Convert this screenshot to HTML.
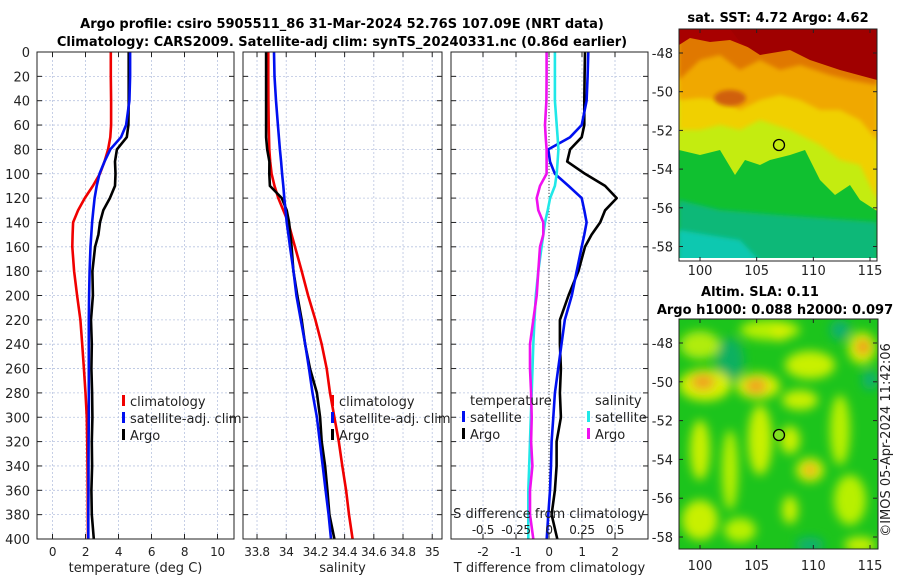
<!DOCTYPE html>
<html><head><meta charset="utf-8">
<style>
html,body{margin:0;padding:0;background:#fff;}
svg{display:block;font-family:"DejaVu Sans","Liberation Sans",sans-serif;}
</style></head>
<body>
<svg id="fig" width="900" height="580" viewBox="0 0 900 580" xmlns="http://www.w3.org/2000/svg">
<defs>
<filter id="blur2" x="-20%" y="-20%" width="140%" height="140%"><feGaussianBlur stdDeviation="2"/></filter>
<filter id="blur5" x="-50%" y="-50%" width="200%" height="200%"><feGaussianBlur stdDeviation="5"/></filter>
<clipPath id="clipM1"><rect x="679" y="29" width="198" height="232"/></clipPath>
<clipPath id="clipM2"><rect x="679" y="319" width="199" height="230"/></clipPath>
</defs>
<text x="342" y="28" text-anchor="middle" font-size="13" font-weight="bold">Argo profile: csiro 5905511_86 31-Mar-2024 52.76S 107.09E (NRT data)</text>
<text x="342" y="46" text-anchor="middle" font-size="13" font-weight="bold">Climatology: CARS2009. Satellite-adj clim: synTS_20240331.nc (0.86d earlier)</text>

<!-- SST map -->
<g clip-path="url(#clipM1)">
<rect x="679" y="29" width="198" height="232" fill="#10c030"/>
<path d="M679,200 L720,210 L780,215 L877,222 L877,261 L679,261Z" fill="#0cb878" filter="url(#blur2)"/>
<path d="M679,230 L740,240 L760,261 L679,261Z" fill="#10c8b0" filter="url(#blur2)"/>
<path d="M679,29 L877,29 L877,211 L860,200 L850,185 L835,195 L820,180 L805,150 L790,155 L770,160 L760,165 L745,160 L735,175 L720,150 L700,155 L679,150Z" fill="#c4ec10"/>
<path d="M679,29 L877,29 L877,200 L860,165 L840,160 L820,145 L790,130 L760,120 L740,130 L720,125 L700,130 L679,130Z" fill="#f0d000" filter="url(#blur2)"/>
<path d="M679,29 L877,29 L877,140 L860,120 L840,110 L820,110 L800,100 L780,95 L760,100 L740,110 L720,100 L700,98 L679,100Z" fill="#f0a800" filter="url(#blur2)"/>
<path d="M679,29 L877,29 L877,85 L850,80 L830,75 L800,65 L780,70 L760,60 L740,70 L720,55 L700,60 L679,80Z" fill="#e07800" filter="url(#blur2)"/>
<ellipse cx="730" cy="98" rx="16" ry="8" fill="#d06010" filter="url(#blur2)"/>
<path d="M679,29 L877,29 L877,78 L855,70 L830,62 L810,55 L790,50 L770,45 L750,48 L730,40 L710,42 L690,38 L679,45Z" fill="#a80000"/>
<path d="M730,29 L877,29 L877,80 L840,70 L810,60 L790,50 L760,55 L740,42Z" fill="#a00000"/>
<rect x="679" y="258" width="198" height="3" fill="#fff"/>
</g>
<rect x="679" y="29" width="198" height="232" fill="none" stroke="#222" stroke-width="1"/>
<circle cx="779" cy="145" r="5.5" fill="none" stroke="#000" stroke-width="1.3"/>
<text x="778" y="22" text-anchor="middle" font-size="13" font-weight="bold">sat. SST: 4.72 Argo: 4.62</text>

<!-- SLA map -->
<g clip-path="url(#clipM2)">
<rect x="679" y="319" width="199" height="230" fill="#1cc41c"/>
<g filter="url(#blur5)">
<ellipse cx="730" cy="360" rx="14" ry="22" fill="#10b060"/>
<ellipse cx="705" cy="385" rx="26" ry="16" fill="#d8f000"/>
<ellipse cx="758" cy="386" rx="22" ry="13" fill="#d8f000"/>
<ellipse cx="703" cy="382" rx="12" ry="8" fill="#f0a020"/>
<ellipse cx="756" cy="386" rx="11" ry="8" fill="#f0a020"/>
<ellipse cx="862" cy="348" rx="14" ry="16" fill="#d8f000"/>
<ellipse cx="863" cy="347" rx="7" ry="8" fill="#f09020"/>
<ellipse cx="810" cy="470" rx="14" ry="12" fill="#d8f000"/>
<ellipse cx="810" cy="470" rx="6" ry="6" fill="#f0a020"/>
<ellipse cx="760" cy="440" rx="12" ry="35" fill="#c8f000"/>
<ellipse cx="790" cy="440" rx="10" ry="14" fill="#c8f000"/>
<ellipse cx="810" cy="365" rx="25" ry="14" fill="#c8f000"/>
<ellipse cx="800" cy="400" rx="18" ry="10" fill="#c8f000"/>
<ellipse cx="700" cy="450" rx="10" ry="30" fill="#c8f000"/>
<ellipse cx="730" cy="470" rx="8" ry="40" fill="#b8f000"/>
<ellipse cx="700" cy="520" rx="18" ry="20" fill="#c8f000"/>
<ellipse cx="740" cy="530" rx="16" ry="12" fill="#b8f000"/>
<ellipse cx="840" cy="430" rx="10" ry="35" fill="#b8f000"/>
<ellipse cx="850" cy="500" rx="16" ry="25" fill="#b8f000"/>
<ellipse cx="790" cy="510" rx="8" ry="14" fill="#c8f000"/>
<ellipse cx="770" cy="330" rx="30" ry="10" fill="#b8f000"/>
<ellipse cx="780" cy="333" rx="8" ry="8" fill="#d8f000"/>
<ellipse cx="840" cy="330" rx="10" ry="10" fill="#10b070"/>
<ellipse cx="870" cy="380" rx="8" ry="10" fill="#10b070"/>
<ellipse cx="810" cy="545" rx="14" ry="8" fill="#10b070"/>
<ellipse cx="700" cy="345" rx="20" ry="14" fill="#b0ec10"/>
<ellipse cx="860" cy="545" rx="16" ry="8" fill="#c8f000"/>
</g>
</g>
<rect x="679" y="319" width="199" height="230" fill="none" stroke="#222" stroke-width="1"/>
<circle cx="779" cy="435" r="5.5" fill="#80e020" stroke="#000" stroke-width="1.3"/>
<text x="760" y="296" text-anchor="middle" font-size="13" font-weight="bold">Altim. SLA: 0.11</text>
<text x="775" y="314" text-anchor="middle" font-size="13" font-weight="bold">Argo h1000: 0.088 h2000: 0.097</text>
<text transform="translate(890,440) rotate(-90)" text-anchor="middle" font-size="13" fill="#222">©IMOS 05-Apr-2024 11:42:06</text>
<g id="plots"></g>
</svg>
<script>
const depths = [0,20,40,60,70,80,90,100,110,120,130,140,150,160,180,200,220,240,260,280,300,320,340,360,380,400];
const tempClim = [3.53,3.53,3.55,3.55,3.5,3.37,3.15,2.87,2.45,1.96,1.55,1.25,1.22,1.2,1.31,1.49,1.69,1.8,1.9,2.0,2.08,2.1,2.12,2.13,2.14,2.15];
const tempSat = [4.70,4.70,4.66,4.46,4.15,3.5,3.15,2.85,2.68,2.55,2.47,2.4,2.35,2.3,2.25,2.22,2.2,2.2,2.2,2.2,2.2,2.19,2.18,2.18,2.17,2.17];
const tempArgo = [4.62,4.62,4.62,4.6,4.5,3.9,3.79,3.82,3.79,3.48,3.08,2.88,2.78,2.58,2.42,2.45,2.33,2.38,2.36,2.4,2.42,2.38,2.4,2.36,2.38,2.5];
const salClim = [33.877,33.877,33.878,33.88,33.882,33.884,33.89,33.9,33.92,33.946,33.98,34.014,34.037,34.06,34.106,34.15,34.2,34.243,34.277,34.3,34.33,34.36,34.384,34.41,34.43,34.455];
const salSat = [33.916,33.92,33.93,33.943,33.95,33.957,33.965,33.972,33.98,33.987,33.995,34.003,34.015,34.026,34.05,34.07,34.1,34.13,34.156,34.18,34.21,34.23,34.25,34.27,34.29,34.307];
const salArgo = [33.862,33.862,33.862,33.862,33.862,33.87,33.885,33.884,33.888,33.97,34.003,34.02,34.028,34.037,34.049,34.076,34.106,34.129,34.163,34.21,34.232,34.243,34.266,34.282,34.296,34.33];
const tDiffSat = [1.19,1.17,1.14,0.99,0.64,-0.02,0.03,0.18,0.59,0.99,1.07,1.14,1.07,0.99,0.84,0.69,0.48,0.38,0.28,0.18,0.13,0.08,0.06,0.03,-0.02,-0.07];
const tDiffArgo = [1.09,1.08,1.07,1.07,0.99,0.64,0.55,1.09,1.7,2.05,1.7,1.55,1.29,1.09,0.89,0.59,0.33,0.33,0.36,0.33,0.36,0.23,0.23,0.18,0.08,0.25];
const sDiffSat = [0.045,0.045,0.045,0.058,0.065,0.071,0.065,0.058,0.045,0.008,-0.01,-0.03,-0.043,-0.056,-0.081,-0.1,-0.11,-0.119,-0.125,-0.131,-0.138,-0.144,-0.15,-0.157,-0.157,-0.157];
const sDiffArgo = [-0.018,-0.018,-0.02,-0.03,-0.025,-0.018,-0.018,-0.018,-0.068,-0.093,-0.081,-0.043,-0.043,-0.068,-0.081,-0.093,-0.119,-0.144,-0.144,-0.136,-0.131,-0.136,-0.126,-0.144,-0.144,-0.119];
const depthTicks = [0,20,40,60,80,100,120,140,160,180,200,220,240,260,280,300,320,340,360,380,400];
const tempTicks = [0,2,4,6,8,10];
const salTicks = [33.8,34,34.2,34.4,34.6,34.8,35];
const tDiffTicks = [-2,-1,0,1,2];
const sDiffTicks = [-0.5,-0.25,0,0.25,0.5];
const sDiffTickLabels = ["-0.5","-0.25","0","0.25","0.5"];
const lonTicks=[100,105,110,115];
const latTicks=[-48,-50,-52,-54,-56,-58];

const NS = "http://www.w3.org/2000/svg";
const root = document.getElementById('plots');
function mk(tag, attrs, parent){const e=document.createElementNS(NS,tag);for(const k in attrs)e.setAttribute(k,attrs[k]);(parent||root).appendChild(e);return e;}
const Y0=52, Y1=539;
const yS = d => Y0 + (d/400)*(Y1-Y0);
function lin(d0,d1,r0,r1){return v=>r0+(v-d0)/(d1-d0)*(r1-r0);}

const panels = [
 {name:'temperature', x0:37, x1:234, sc:lin(-0.94,11.0,37,234), ticks:tempTicks, labels:tempTicks.map(String), title:'temperature (deg C)'},
 {name:'salinity', x0:243, x1:442, sc:lin(33.704,35.067,243,442), ticks:salTicks, labels:salTicks.map(String), title:'salinity'},
 {name:'difference', x0:451, x1:648, sc:lin(-2.97,3.0,451,648), ticks:tDiffTicks, labels:tDiffTicks.map(String), title:'T difference from climatology'}
];
panels.forEach((p,pi)=>{
  const g = mk('g',{});
  
  
  depthTicks.forEach(d=>{
    const l=mk('line',{x1:p.x0,x2:p.x1,y1:yS(d),y2:yS(d),stroke:'#b8c4e0','stroke-width':0.8,'stroke-dasharray':'2,2'},g);
    
    
  });
  p.ticks.forEach(t=>{
    const x=p.sc(t);
    const l=mk('line',{x1:x,x2:x,y1:Y0,y2:Y1,stroke:'#b8c4e0','stroke-width':0.8,'stroke-dasharray':'2,2'},g);
    
    
    mk('line',{x1:x,x2:x,y1:Y1,y2:Y1-5,stroke:'#222'},g);
    mk('line',{x1:x,x2:x,y1:Y0,y2:Y0+5,stroke:'#222'},g);
  });
  p.ticks.forEach((t,i)=>{
    const tx=mk('text',{x:p.sc(t),y:Y1+17,'text-anchor':'middle','font-size':12,'letter-spacing':'-0.3',fill:'#222'},g);
    tx.textContent=p.labels[i];
    
    
  });
  const at=mk('text',{x:(p.x0+p.x1)/2,y:572,'text-anchor':'middle','font-size':13,fill:'#222'},g);
  at.textContent=p.title;
  
  
  depthTicks.forEach(d=>{
    mk('line',{x1:p.x0,x2:p.x0+5,y1:yS(d),y2:yS(d),stroke:'#222'},g);
    mk('line',{x1:p.x1,x2:p.x1-5,y1:yS(d),y2:yS(d),stroke:'#222'},g);
  });
  p.g=g;
});
depthTicks.forEach(d=>{
  const t=mk('text',{x:30,y:yS(d)+5,'text-anchor':'end','font-size':13,fill:'#222'});
  t.textContent=String(d);
  
  
});
const zl=mk('line',{x1:panels[2].sc(0),x2:panels[2].sc(0),y1:Y0,y2:Y1,stroke:'#444','stroke-width':1,'stroke-dasharray':'1,2'},panels[2].g);



function series(p, vals, color, name, sc){
  const f = sc||p.sc;
  const pts = vals.map((v,i)=>f(v).toFixed(1)+','+yS(depths[i]).toFixed(1)).join(' ');
  const l=mk('polyline',{points:pts,fill:'none',stroke:color,'stroke-width':2.6,'stroke-linejoin':'round'},p.g);
  
  
}
series(panels[0],tempClim,'#f00000','temp-climatology-line');
series(panels[0],tempArgo,'#000','temp-argo-line');
series(panels[0],tempSat,'#0010f0','temp-satellite-line');
series(panels[1],salClim,'#f00000','sal-climatology-line');
series(panels[1],salArgo,'#000','sal-argo-line');
series(panels[1],salSat,'#0010f0','sal-satellite-line');
const sScale = lin(-0.7425,0.75,451,648);
series(panels[2],tDiffArgo,'#000','tdiff-argo-line');
series(panels[2],tDiffSat,'#0010f0','tdiff-satellite-line');
series(panels[2],sDiffSat,'#20e8e8','sdiff-satellite-line',sScale);
series(panels[2],sDiffArgo,'#f010f0','sdiff-argo-line',sScale);

const sdt=mk('text',{x:549,y:518,'text-anchor':'middle','font-size':13,fill:'#222'},panels[2].g);
sdt.textContent='S difference from climatology';


sDiffTicks.forEach((t,i)=>{
  const tx=mk('text',{x:sScale(t),y:534,'text-anchor':'middle','font-size':12,'letter-spacing':'-0.3',fill:'#222'},panels[2].g);
  tx.textContent=sDiffTickLabels[i];
  
  
});

panels.forEach(p=>{
  const r=mk('rect',{x:p.x0,y:Y0,width:p.x1-p.x0,height:Y1-Y0,fill:'none',stroke:'#222','stroke-width':1},p.g);
  
  
});

function legendItem(g,x,y,color,label){
  const gg=mk('g',{},g);
  
  
  if(color) mk('rect',{x:x-8,y:y-6,width:3,height:11,fill:color},gg);
  const t=mk('text',{x:x,y:y+5,'font-size':13,fill:'#222'},gg);
  t.textContent=label;
}
[[0,130],[1,339]].forEach(([pi,x])=>{
  legendItem(panels[pi].g,x,401,'#f00000','climatology');
  legendItem(panels[pi].g,x,418,'#0010f0','satellite-adj. clim');
  legendItem(panels[pi].g,x,435,'#000','Argo');
});
legendItem(panels[2].g,470,400,null,'temperature');
legendItem(panels[2].g,470,417,'#0010f0','satellite');
legendItem(panels[2].g,470,434,'#000','Argo');
legendItem(panels[2].g,595,400,null,'salinity');
legendItem(panels[2].g,595,417,'#20e8e8','satellite');
legendItem(panels[2].g,595,434,'#f010f0','Argo');

const lonX = lin(100,115,700,870);
[[53,38.7,270],[343,38.8,565]].forEach(([y48,step,ly],mi)=>{
  const top = mi===0?29:319, bot = mi===0?261:549;
  lonTicks.forEach(l=>{
    const x=lonX(l);
    mk('line',{x1:x,x2:x,y1:bot,y2:bot-4,stroke:'#222'});
    mk('line',{x1:x,x2:x,y1:top,y2:top+4,stroke:'#222'});
    const t=mk('text',{x:x,y:ly+5,'text-anchor':'middle','font-size':13,fill:'#222'});
    t.textContent=String(l);
    
    
  });
  latTicks.forEach(la=>{
    const y=y48+(-48-la)/2*step;
    mk('line',{x1:679,x2:683,y1:y,y2:y,stroke:'#222'});
    mk('line',{x1:877,x2:873,y1:y,y2:y,stroke:'#222'});
    const t=mk('text',{x:673,y:y+5,'text-anchor':'end','font-size':13,fill:'#222'});
    t.textContent=String(la);
    
    
  });
});
</script>
</body></html>
